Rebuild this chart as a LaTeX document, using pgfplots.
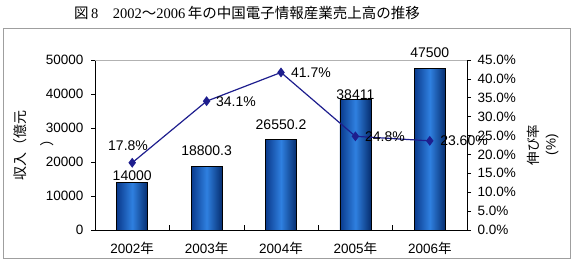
\documentclass[border=0pt]{standalone}
\usepackage{pgfplots}
\pgfplotsset{compat=1.18}
\usepackage{pgfplotstable}
\usepackage{fontspec}
\setmainfont{Liberation Sans}
\newfontfamily\cjk{Noto Sans CJK JP}
\newfontfamily\serif{Liberation Serif}
\definecolor{barE}{HTML}{0A3A8C}
\definecolor{barM}{HTML}{2F80E0}
\definecolor{barE2}{HTML}{062E70}
\definecolor{lineC}{HTML}{1E1E8E}
\pgfplotstableread{
x rev growth
0 14000 17.8
1 18800.3 34.1
2 26550.2 41.7
3 38411 24.8
4 47500 23.6
}\data
\begin{document}
\begin{tikzpicture}
\useasboundingbox (0,0) rectangle (575pt,262pt);
\draw[gray!75, line width=0.8pt] (3pt,4pt) rectangle (570pt,234pt);
\node[font=\fontsize{14.5}{16}\selectfont] at (247pt,249pt) {{\cjk 図}\,{\serif 8}{\cjk 　}{\serif 2002}{\cjk ～}{\serif 2006}\,{\cjk 年の中国電子情報産業売上高の推移}};
\node[rotate=90, font=\cjk\fontsize{14}{16}\selectfont] at (20pt,116pt) {収入（億元};
\node[rotate=90, font=\cjk\fontsize{14}{16}\selectfont] at (47pt,122pt) {）};
\node[rotate=90, font=\cjk\fontsize{13.5}{15}\selectfont] at (533pt,117pt) {伸び率};
\node[rotate=90, font=\fontsize{13.5}{15}\selectfont] at (552pt,117pt) {(\%)};
\begin{axis}[
  at={(95pt,32pt)}, anchor=south west,
  width=372pt, height=170pt, scale only axis,
  xmin=-0.5, xmax=4.5, ymin=0, ymax=50000,
  axis y line*=left, axis x line*=bottom,
  axis line style={black, line width=0.7pt},
  xtick={0,1,2,3,4},
  xticklabels={2002{\cjk 年},2003{\cjk 年},2004{\cjk 年},2005{\cjk 年},2006{\cjk 年}},
  xtick style={draw=none},
  ytick={0,10000,20000,30000,40000,50000},
  tick align=outside, major tick length=4pt,
  ytick style={black, line width=0.6pt},
  scaled y ticks=false,
  /pgf/number format/assume math mode=true,
  /pgf/number format/1000 sep={},
  tick label style={font=\fontsize{13.5}{15}\selectfont},
  yticklabel style={xshift=-4pt},
  xticklabel style={yshift=-5pt},
  clip=false,
]
\draw[gray!60, line width=0.6pt] (rel axis cs:0,1) -- (rel axis cs:1,1);
\pgfplotsinvokeforeach{0,1,2,3,4}{
\addplot[ybar, bar width=31pt, draw=black, line width=0.5pt,
  left color=barE, right color=barE2, middle color=barM,
  restrict x to domain=#1:#1]
  table[x=x, y=rev] {\data};
}
\addplot[draw=none, mark=none, nodes near coords, point meta=explicit symbolic,
  every node near coord/.append style={anchor=center, font=\fontsize{14}{16}\selectfont, text=black}]
  coordinates {(0,15882)[14000] (1,23235)[18800.3] (2,30882)[26550.2] (3,39706)[38411] (4,52059)[47500]};
\end{axis}
\begin{axis}[
  at={(95pt,32pt)}, anchor=south west,
  width=372pt, height=170pt, scale only axis,
  xmin=-0.5, xmax=4.5, ymin=0, ymax=1,
  axis y line=none, axis x line*=bottom,
  axis line style={black, line width=0.7pt},
  xtick={0.5,1.5,2.5,3.5}, xticklabels={},
  tick align=inside, major tick length=5pt,
  xtick style={black, line width=0.6pt},
]
\end{axis}
\begin{axis}[
  at={(95pt,32pt)}, anchor=south west,
  width=372pt, height=170pt, scale only axis,
  xmin=-0.5, xmax=4.5, ymin=0, ymax=45,
  axis y line*=right, axis x line=none,
  axis line style={black, line width=0.7pt},
  ytick={0,5,...,45},
  tick align=outside, major tick length=4pt,
  ytick style={black, line width=0.6pt},
  /pgf/number format/assume math mode=true,
  yticklabel={\pgfmathprintnumber[fixed,fixed zerofill,precision=1]{\tick}\%},
  tick label style={font=\fontsize{13.5}{15}\selectfont},
  yticklabel style={xshift=3pt},
  clip=false,
]
\addplot[lineC, line width=1.2pt, mark=diamond*, mark size=4pt, mark options={fill=lineC, draw=lineC}]
  table[x=x, y=growth] {\data};
\addplot[draw=none, mark=none, nodes near coords, point meta=explicit symbolic,
  every node near coord/.append style={anchor=center, font=\fontsize{14}{16}\selectfont, text=black}]
  coordinates {(-0.056,22.2)[17.8\%] (1.395,33.9)[34.1\%] (2.403,41.56)[41.7\%] (3.398,24.6)[24.8\%] (4.46,23.56)[23.60\%]};
\end{axis}
\end{tikzpicture}
\end{document}
